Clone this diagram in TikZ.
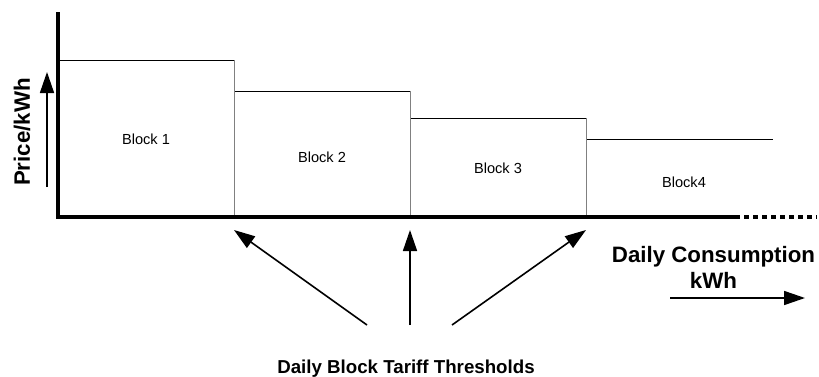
\documentclass[tikz,border=0pt]{standalone}
\usepackage{fontspec}
\setmainfont{Liberation Sans}
\usetikzlibrary{arrows.meta, positioning}
\definecolor{edgeGrey}{HTML}{808080}
\tikzset{
  axisline/.style = {black, line width=3.8pt},
  tailline/.style = {black, line width=3.8pt, dash pattern=on 5pt off 4pt},
  stepline/.style = {black, line width=1pt},
  edgeline/.style = {edgeGrey, line width=1pt},
  pointer/.style  = {-{Triangle[length=21pt, width=14pt]}, line width=1.6pt, black},
  blbl/.style     = {font=\fontsize{14.6pt}{17pt}\selectfont},
  axlbl/.style    = {font=\fontsize{22.3pt}{26pt}\selectfont\bfseries, align=center},
  tlbl/.style     = {font=\fontsize{18.7pt}{21pt}\selectfont\bfseries},
}

\begin{document}
\begin{tikzpicture}[x=1pt, y=1pt]
  \useasboundingbox (0,0) rectangle (819,376);

  % axis points
  \coordinate (origin) at (58,159);
  \coordinate (ytop)   at (58,364);
  \coordinate (xend)   at (735,159);
  \coordinate (xdots)  at (817,159);
  \coordinate (th1)    at (234,159);
  \coordinate (th2)    at (410,159);
  \coordinate (th3)    at (586,159);

  % price steps
  \draw[stepline] (58,316) -- (234,316);
  \draw[stepline] (234,285) -- (410,285);
  \draw[stepline] (410,258) -- (586,258);
  \draw[stepline] (586,237) -- (773,237);
  \draw[edgeline] (234,316) -- (th1);
  \draw[edgeline] (410,285) -- (th2);
  \draw[edgeline] (586,258) -- (th3);

  \node[blbl] (blk1) at (146,237) {Block 1};
  \node[blbl] (blk2) at (322,219) {Block 2};
  \node[blbl] (blk3) at (498,208) {Block 3};
  \node[blbl] (blk4) at (684,194) {Block4};

  % axes
  \draw[axisline] (ytop) -- (origin) -- (xend);
  \draw[tailline] (xend) -- (xdots);

  % axis labels
  \node[axlbl, rotate=90] (price) at (22,244) {Price/kWh};
  \coordinate (pbot) at (47,189);
  \coordinate (ptop) at (47,304);
  \draw[pointer] (pbot) -- (ptop);

  \node[axlbl] (cons) at (713.5,109) {Daily Consumption\\kWh};
  \coordinate (cleft)  at (670,78);
  \coordinate (cright) at (805,78);
  \draw[pointer] (cleft) -- (cright);

  % thresholds
  \node[tlbl, anchor=base] (thr) at (406,3) {Daily Block Tariff Thresholds};
  \coordinate (tl) at (367,51);
  \coordinate (tm) at (410,51);
  \coordinate (tr) at (452,51);
  \coordinate (h1) at (234,146);
  \coordinate (h2) at (410,146);
  \coordinate (h3) at (586,146);
  \draw[pointer] (tl) -- (h1);
  \draw[pointer] (tm) -- (h2);
  \draw[pointer] (tr) -- (h3);
\end{tikzpicture}
\end{document}
